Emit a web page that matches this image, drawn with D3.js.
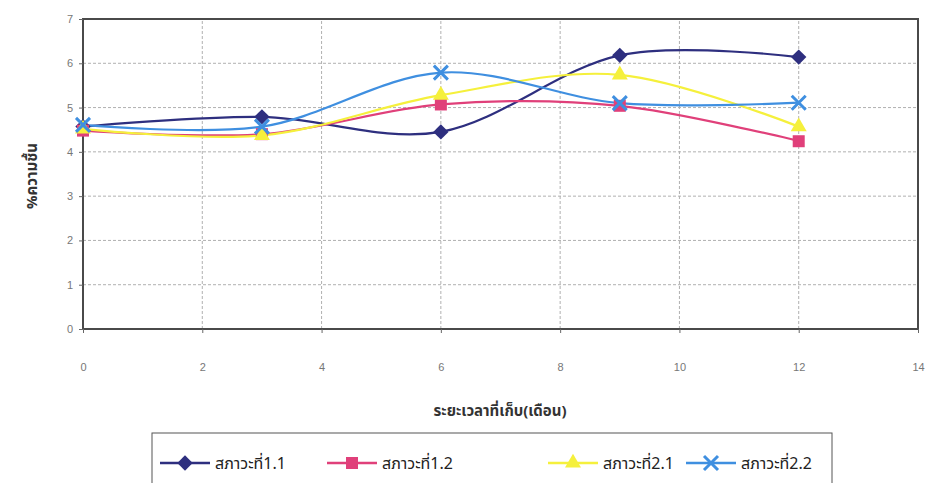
<!DOCTYPE html>
<html>
<head>
<meta charset="utf-8">
<script src="https://cdn.jsdelivr.net/npm/d3@7"></script>
<style>
  body { margin: 0; background: #fff; }
  svg { font-family: "Liberation Sans", Arial, sans-serif; }
  .thai { font-family: "Noto Sans Thai", "Noto Sans Thai UI", Tahoma, "Noto Sans", sans-serif; }
</style>
</head>
<body>
<svg id="chart" width="926" height="483"></svg>
<script>
// months of storage
const months = [0, 3, 6, 9, 12];

const s11 = [4.57, 4.79, 4.45, 6.18, 6.14];
const s12 = [4.48, 4.40, 5.07, 5.04, 4.24];
const s21 = [4.52, 4.37, 5.28, 5.74, 4.57];
const s22 = [4.61, 4.57, 5.79, 5.10, 5.11];

const seriesNames = ["สภาวะที่1.1", "สภาวะที่1.2", "สภาวะที่2.1", "สภาวะที่2.2"];
const seriesColors = ["#2e2f7f", "#e0407a", "#f5f03c", "#3f8fe0"];
const seriesMarkers = ["diamond", "square", "triangle", "cross"];

const xTicks = [0, 2, 4, 6, 8, 10, 12, 14];
const yTicks = [0, 1, 2, 3, 4, 5, 6, 7];

const xTitle = "ระยะเวลาที่เก็บ(เดือน)";
const yTitle = "%ความชื้น";

const svg = d3.select("#chart");

const x = d3.scaleLinear().domain([0, 14]).range([83, 918]);
const y = d3.scaleLinear().domain([0, 7]).range([329, 19]);

// grid
svg.append("g").selectAll("line").data(yTicks.slice(1, -1)).join("line")
    .attr("x1", x(0)).attr("x2", x(14))
    .attr("y1", d => y(d)).attr("y2", d => y(d))
    .attr("stroke", "#b0b0b0").attr("stroke-width", 1).attr("stroke-dasharray", "3,2");

svg.append("g").selectAll("line").data(xTicks.slice(1, -1)).join("line")
    .attr("x1", d => x(d)).attr("x2", d => x(d))
    .attr("y1", y(0)).attr("y2", y(7))
    .attr("stroke", "#b0b0b0").attr("stroke-width", 1).attr("stroke-dasharray", "3,2");

// plot frame
svg.append("rect")
    .attr("x", x(0)).attr("y", y(7))
    .attr("width", x(14) - x(0)).attr("height", y(0) - y(7))
    .attr("fill", "none").attr("stroke", "#4a4a4a").attr("stroke-width", 2);

// axes
const xAxis = svg.append("g").attr("transform", `translate(0,${y(0)})`)
    .call(d3.axisBottom(x).tickValues(xTicks).tickSize(4).tickPadding(30));
const yAxis = svg.append("g").attr("transform", `translate(${x(0)},0)`)
    .call(d3.axisLeft(y).tickValues(yTicks).tickFormat(d3.format("d")).tickSize(4).tickPadding(6));

[xAxis, yAxis].forEach(a => {
    a.select(".domain").remove();
    a.selectAll("line").attr("stroke", "#666");
    a.selectAll("text").attr("fill", "#777").style("font-size", "11px");
});

// titles
svg.append("text").attr("class", "thai")
    .attr("x", 500).attr("y", 416)
    .attr("text-anchor", "middle")
    .style("font-size", "15px").style("font-weight", "bold").attr("fill", "#333")
    .text(xTitle);

svg.append("text").attr("class", "thai")
    .attr("transform", `translate(37,176) rotate(-90)`)
    .attr("text-anchor", "middle")
    .style("font-size", "15px").style("font-weight", "bold").attr("fill", "#333")
    .text(yTitle);

const line = d3.line()
    .x((d, i) => x(months[i]))
    .y(d => y(d))
    .curve(d3.curveCardinal.tension(0));

const allSeries = [s11, s12, s21, s22];

function drawMarker(g, kind, color, cx, cy) {
    if (kind == "diamond") {
        g.append("path").attr("d", d3.symbol(d3.symbolDiamond2, 150)()).attr("transform", `translate(${cx},${cy})`).attr("fill", color);
    } else if (kind == "square") {
        g.append("rect").attr("x", cx - 6).attr("y", cy - 6).attr("width", 12).attr("height", 12).attr("fill", color);
    } else if (kind == "triangle") {
        g.append("path").attr("d", d3.symbol(d3.symbolTriangle, 110)()).attr("transform", `translate(${cx},${cy})`).attr("fill", color);
    } else {
        g.append("path").attr("d", `M${cx-7},${cy-7}L${cx+7},${cy+7}M${cx-7},${cy+7}L${cx+7},${cy-7}`)
            .attr("stroke", color).attr("stroke-width", 3).attr("fill", "none");
    }
}

const seriesG = svg.append("g");
allSeries.forEach((vals, si) => {
    seriesG.append("path").attr("d", line(vals))
        .attr("fill", "none").attr("stroke", seriesColors[si]).attr("stroke-width", 2.2);
});
allSeries.forEach((vals, si) => {
    vals.forEach((v, i) => drawMarker(seriesG, seriesMarkers[si], seriesColors[si], x(months[i]), y(v)));
});

// legend
const legend = svg.append("g");
legend.append("rect").attr("x", 152).attr("y", 433).attr("width", 680).attr("height", 60)
    .attr("fill", "#fff").attr("stroke", "#555").attr("stroke-width", 1);

const legendX = [185, 352, 573, 711];
seriesNames.forEach((name, si) => {
    const cx = legendX[si];
    legend.append("line").attr("x1", cx - 25).attr("x2", cx + 25).attr("y1", 463).attr("y2", 463)
        .attr("stroke", seriesColors[si]).attr("stroke-width", 2.5);
    drawMarker(legend, seriesMarkers[si], seriesColors[si], cx, 463);
    legend.append("text").attr("class", "thai")
        .attr("x", cx + 30).attr("y", 469)
        .style("font-size", "16px").attr("fill", "#222")
        .text(name);
});
</script>
</body>
</html>
